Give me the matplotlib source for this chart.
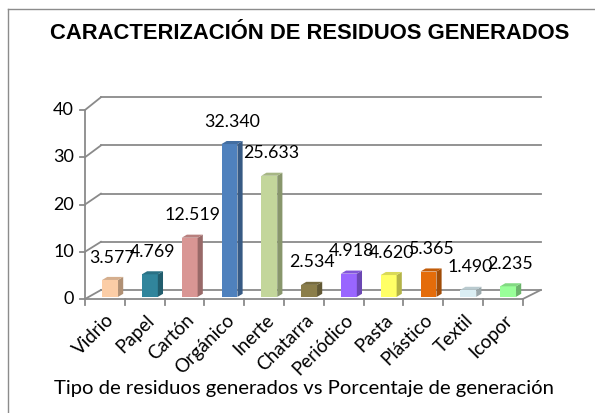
import numpy as np
import matplotlib.pyplot as plt
from matplotlib.patches import Polygon

# data
categorias = ['Vidrio', 'Papel', 'Cartón', 'Orgánico', 'Inerte', 'Chatarra',
              'Periódico', 'Pasta', 'Plástico', 'Textil', 'Icopor']
porcentaje = [3.577, 4.769, 12.519, 32.340, 25.633, 2.534,
              4.918, 4.620, 5.365, 1.490, 2.235]
etiquetas = ['3.577', '4.769', '12.519', '32.340', '25.633', '2.534',
             '4.918', '4.620', '5.365', '1.490', '2.235']
colores = ['#FBCDA6', '#31859C', '#D99694', '#4F81BD', '#C3D69B', '#8B7E4A',
           '#9966FF', '#FFFF66', '#E46C0A', '#DAEEF3', '#99FF99']
ticks_y = [0, 10, 20, 30, 40]

fig = plt.figure(figsize=(5.95, 4.13), dpi=100)

# axes placed so the front axis runs from px 85 to 523, 0..40 from px 299 to 110
px_x = 39.8
px_y = 4.725
ax = fig.add_axes([85 / 595, (413 - 299) / 413, 11.7 * px_x / 595, 43 * px_y / 413])
ax.set_xlim(-0.5, 11.2)
ax.set_ylim(0, 43)
ax.axis('off')

n = len(categorias)
DX = 0.4                       # depth of the back wall (category units)
def back_y(v):
    return 1.9 + v * 1.02

grid = '#8a8a8a'
# back wall gridlines and left wall diagonals
for v in ticks_y:
    ax.plot([-0.5 + DX, n - 0.5 + DX + 0.05], [back_y(v), back_y(v)], color=grid, lw=1.3, clip_on=False)
    ax.plot([-0.5, -0.5 + DX], [v, back_y(v)], color=grid, lw=1.3, clip_on=False)
    ax.plot([-0.62, -0.5], [v, v], color=grid, lw=1.3, clip_on=False)
    ax.text(-0.78, v, str(v), ha='right', va='center', fontsize=13,
            family='Lato', clip_on=False)

# left axis and floor
ax.plot([-0.5, -0.5], [0, 40], color=grid, lw=1.3, clip_on=False)
ax.plot([-0.5, n - 0.5], [0, 0], color=grid, lw=1.3, clip_on=False)
ax.plot([n - 0.5, n - 0.5 + DX + 0.05], [0, back_y(0)], color=grid, lw=1.3, clip_on=False)
for i in range(n + 1):
    ax.plot([i - 0.5, i - 0.5], [0, -1.3], color=grid, lw=1.3, clip_on=False)

def darker(c, f):
    r, g, b = plt.matplotlib.colors.to_rgb(c)
    return (r * f, g * f, b * f)

bw = 0.4
bdx, bdy = 0.13, 0.65
y0 = 0.45
for i, (val, c) in enumerate(zip(porcentaje, colores)):
    x0 = i - 0.07
    x1 = x0 + bw
    top = y0 + val
    ax.add_patch(Polygon([(x0, y0), (x1, y0), (x1, top), (x0, top)],
                         closed=True, facecolor=c, edgecolor='none', zorder=3))
    ax.add_patch(Polygon([(x1, y0), (x1 + bdx, y0 + bdy), (x1 + bdx, top + bdy), (x1, top)],
                         closed=True, facecolor=darker(c, 0.7), edgecolor='none', zorder=3))
    ax.add_patch(Polygon([(x0, top), (x0 + bdx, top + bdy), (x1 + bdx, top + bdy), (x1, top)],
                         closed=True, facecolor=darker(c, 0.85), edgecolor='none', zorder=3))
    ax.text(x0 + bw / 2 + 0.06, val + 5.2, etiquetas[i], ha='center', va='center',
            fontsize=12.8, family='Lato', zorder=4)
    ax.text(i + 0.02, -2.6, categorias[i], rotation=45, rotation_mode='anchor',
            ha='right', va='top', fontsize=13.5, family='Lato')

fig.text(0.521, 0.918, 'CARACTERIZACIÓN DE RESIDUOS GENERADOS', ha='center', va='center',
         fontsize=15.8, fontweight='bold', family='Liberation Sans')
fig.text(0.51, 0.06, 'Tipo de residuos generados vs Porcentaje de generación',
         ha='center', va='center', fontsize=14.6, family='Lato')

# border (top and left edges visible)
fig.add_artist(plt.Line2D([8 / 595, 1], [1 - 9 / 413, 1 - 9 / 413], color='#8c8c8c', lw=1))
fig.add_artist(plt.Line2D([8 / 595, 8 / 595], [0, 1 - 9 / 413], color='#8c8c8c', lw=1))

fig.savefig('out.png', dpi=100)
